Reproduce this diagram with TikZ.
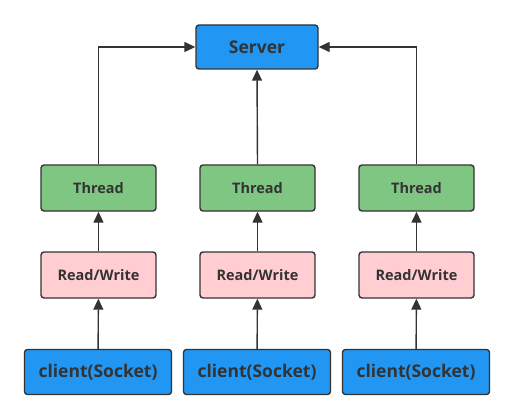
\documentclass[tikz,border=0pt]{standalone}
\usepackage{fontspec}
\setmainfont{Open Sans}
\usetikzlibrary{arrows.meta}
\definecolor{bblue}{HTML}{2196F3}
\definecolor{bgreen}{HTML}{80C683}
\definecolor{bpink}{HTML}{FFCDD2}
\definecolor{edge}{HTML}{333333}
\begin{document}
\begin{tikzpicture}[x=1pt,y=-1pt,
  box/.style={draw=edge,line width=1.4pt,rounded corners=3pt,inner sep=0pt,text=edge,font=\bfseries},
  conn/.style={draw=edge,line width=1.4pt,-{Triangle[length=11pt,width=10pt]}}]
\useasboundingbox (0,0) rectangle (514,420);
\node[box,fill=bblue,minimum width=122pt,minimum height=44pt,font=\bfseries\fontsize{17.5}{20}\selectfont] (server) at (257,47) {Server};
\foreach \i/\x in {1/98.5,2/257.5,3/416.5}{
  \node[box,fill=bgreen,minimum width=115pt,minimum height=46pt,font=\bfseries\fontsize{14.5}{17}\selectfont] (t\i) at (\x,188) {Thread};
  \node[box,fill=bpink,minimum width=115pt,minimum height=46pt,font=\bfseries\fontsize{14.5}{17}\selectfont] (rw\i) at (\x,275) {Read/Write};
}
\node[box,fill=bblue,minimum width=147pt,minimum height=45pt,font=\bfseries\fontsize{17.5}{20}\selectfont] (c1) at (98,372) {client(Socket)};
\node[box,fill=bblue,minimum width=147pt,minimum height=45pt,font=\bfseries\fontsize{17.5}{20}\selectfont] (c2) at (257,372) {client(Socket)};
\node[box,fill=bblue,minimum width=147pt,minimum height=45pt,font=\bfseries\fontsize{17.5}{20}\selectfont] (c3) at (416,372) {client(Socket)};
\foreach \i in {1,2,3}{
  \draw[conn] (c\i) -- (rw\i);
  \draw[conn] (rw\i) -- (t\i);
}
\draw[conn] (t1.north) |- (server.west);
\draw[conn] (t3.north) |- (server.east);
\draw[conn] (t2.north) -- (server.south);
\end{tikzpicture}
\end{document}
